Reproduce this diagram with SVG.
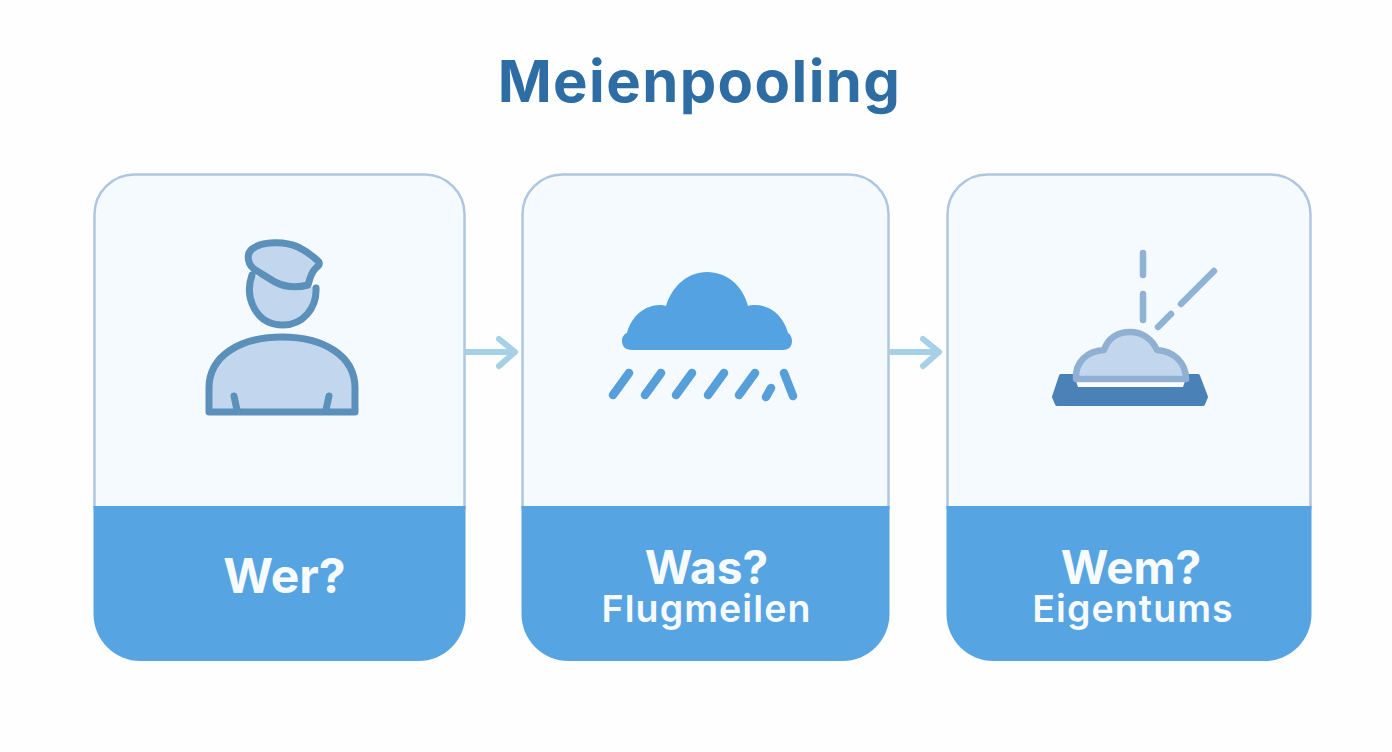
<svg xmlns="http://www.w3.org/2000/svg" width="1392" height="752" viewBox="0 0 1392 752">
<style>
text{font-family:"Inter","Liberation Sans",sans-serif;text-anchor:middle}
.card{fill:#f5fafe;stroke:#afc6df;stroke-width:2.500}
.band{fill:#57a4e2}
.big{fill:#f8fbfd;font-weight:700}
.small{fill:#f8fbfd;font-size:37.500px;font-weight:600;letter-spacing:1.100px}
.o{stroke:#5a90ba;stroke-width:7;fill:#c2d7ee;stroke-linecap:round;stroke-linejoin:round}
.rain{stroke:#569fd8;stroke-width:8.500;stroke-linecap:round;fill:none}
.ray{stroke:#8fb3d6;stroke-width:6.500;stroke-linecap:round;fill:none}
.arr{stroke:#a5d0e8;stroke-width:6;fill:none;stroke-linecap:round;stroke-linejoin:round}
</style>
<rect width="1392" height="752" fill="#fefefe"/>
<text id="title" x="699.500" y="102" font-size="58" font-weight="700" letter-spacing="1.400" fill="#2e6da4">Meienpooling</text>
<g id="connectors">
<path class="arr" d="M466 352H512M499 339L515 352L499 366"/>
<path class="arr" d="M891 352H936M923 339L939 352L923 366"/>
</g>
<g id="node-wer">
<path class="card" d="M94.500 508V214.500a40 40 0 0 1 40-40H424.500a40 40 0 0 1 40 40V508Z"/>
<path class="band" d="M93.500 506H465.500V614a47 47 0 0 1-47 47H140.500a47 47 0 0 1-47-47Z"/>
<path class="o" d="M209 412V388C209 356 240 337 282 337C324 337 355 356 355 388V412Z"/>
<path class="o" fill="none" d="M234 396L237 410M329 396L326 410"/>
<path class="o" d="M252 275C244 298 256 325 283 325C303 325 317 308 316 288"/>
<path class="o" d="M257 271C247 266 246 254 252 249C262 241 285 241 298 247C306 251 314 257 319 262C320 265 318 266 315 269C311 273 310 278 308 285C297 288 285 287 275 282Z"/>
<text class="big" font-size="48" x="284.500" y="593">Wer?</text>
</g>
<g id="node-was">
<path class="card" d="M522.500 508V214.500a40 40 0 0 1 40-40H848.500a40 40 0 0 1 40 40V508Z"/>
<path class="band" d="M521.500 506H889.500V614a47 47 0 0 1-47 47H568.500a47 47 0 0 1-47-47Z"/>
<path fill="#55a2e2" d="M632 350C625 350 622 346 622 341C622 337 624 334 627 333C631 317 644 305 660 305C662 305 664 305 666 306C672 286 688 272 707 272C727 272 743 286 748 306C750 305 752 305 755 305C771 305 784 317 788 333C790 334 792 337 792 341C792 346 789 350 783 350Z"/>
<path class="rain" d="M613 395L629 373M645 395L661 373M676 395L692 373M708 395L724 373M739 395L755 373M766 397L771 388M784 373L793 396"/>
<text class="big" font-size="46" x="706.500" y="584">Was?</text>
<text class="small" x="706.500" y="622">Flugmeilen</text>
</g>
<g id="node-wem">
<path class="card" d="M947.500 508V214.500a40 40 0 0 1 40-40H1270.500a40 40 0 0 1 40 40V508Z"/>
<path class="band" d="M946.500 506H1311.500V614a47 47 0 0 1-47 47H993.500a47 47 0 0 1-47-47Z"/>
<path fill="#4a82b8" stroke="#4a82b8" stroke-width="4" stroke-linejoin="round" d="M1061 376H1198L1206 397L1203 404H1057L1054 397Z"/>
<path fill="#fbfdff" d="M1076 381H1185L1183 387H1078Z"/>
<path fill="#c2d7ee" stroke="#8fb0d2" stroke-width="6.500" stroke-linejoin="round" d="M1076 379C1075 362 1087 351 1104 350C1108 338 1118 332 1130 332C1142 332 1152 339 1157 350C1173 351 1186 362 1186 379Z"/>
<path class="ray" d="M1143 253V275M1143 294V320M1158 327L1171 314M1181 304L1214 271"/>
<text class="big" font-size="46" x="1131" y="584">Wem?</text>
<text class="small" x="1133" y="622">Eigentums</text>
</g>
</svg>
